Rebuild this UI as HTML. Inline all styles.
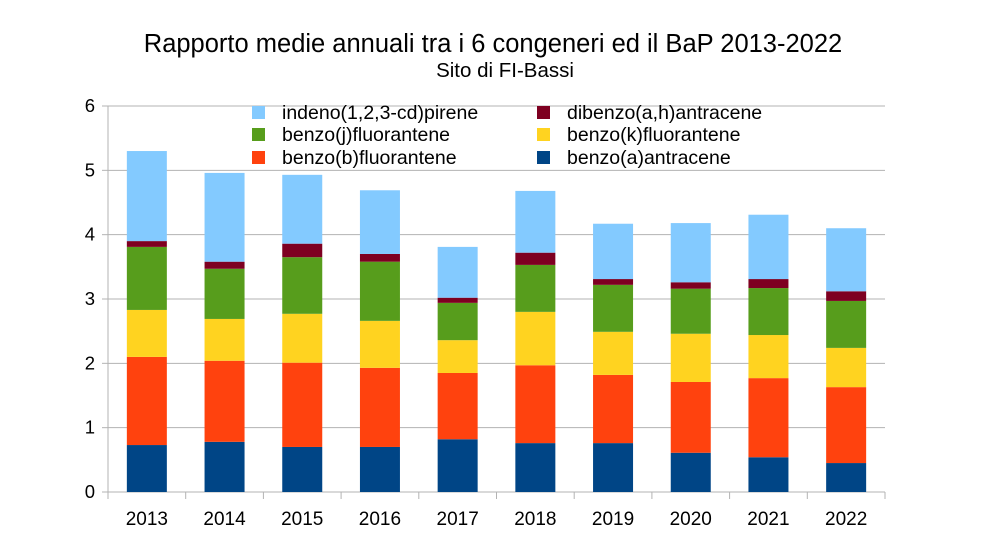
<!DOCTYPE html>
<html><head><meta charset="utf-8"><style>
body{margin:0;background:#fff;}
svg text{font-family:"Liberation Sans",sans-serif;fill:#000;}
</style></head><body>
<svg id="chart" width="986" height="555" viewBox="0 0 986 555" xmlns="http://www.w3.org/2000/svg">
<rect width="986" height="555" fill="#fff"/>
<text x="493" y="52" font-size="25.5" text-anchor="middle">Rapporto medie annuali tra i 6 congeneri ed il BaP 2013-2022</text>
<text x="505" y="77" font-size="20.5" text-anchor="middle">Sito di FI-Bassi</text>
<g id="grid"></g><g id="bars"></g><g id="axes"></g><g id="legend"></g>
</svg>
<script>
const categories=["2013","2014","2015","2016","2017","2018","2019","2020","2021","2022"];
const seriesNames=["benzo(a)antracene","benzo(b)fluorantene","benzo(k)fluorantene","benzo(j)fluorantene","dibenzo(a,h)antracene","indeno(1,2,3-cd)pirene"];
const benzoA=[0.73,0.78,0.70,0.70,0.82,0.76,0.76,0.61,0.54,0.45];
const benzoB=[1.37,1.26,1.31,1.23,1.03,1.21,1.06,1.10,1.23,1.18];
const benzoK=[0.73,0.65,0.76,0.73,0.51,0.83,0.67,0.75,0.67,0.61];
const benzoJ=[0.98,0.78,0.88,0.92,0.58,0.73,0.73,0.70,0.73,0.73];
const dibenzo=[0.09,0.11,0.21,0.12,0.08,0.19,0.09,0.10,0.14,0.15];
const indeno=[1.40,1.38,1.07,0.99,0.79,0.96,0.86,0.92,1.00,0.98];
const yTicks=[0,1,2,3,4,5,6];
const colors=["#004586","#ff420e","#ffd320","#579d1c","#7e0021","#83caff"];
const series=[benzoA,benzoB,benzoK,benzoJ,dibenzo,indeno];
const NS="http://www.w3.org/2000/svg";
const x0=108,x1=885,y0=492,y1=106,yMax=6;
const band=(x1-x0)/categories.length;
function yScale(v){return y0-(v/yMax)*(y0-y1);}
function xCenter(i){return x0+band*(i+0.5);}
function mk(tag,attrs,parent){const e=document.createElementNS(NS,tag);for(const k in attrs)e.setAttribute(k,attrs[k]);parent.appendChild(e);return e;}
const grid=document.getElementById('grid'),bars=document.getElementById('bars'),axes=document.getElementById('axes'),legend=document.getElementById('legend');
yTicks.forEach(t=>{
  const y=yScale(t);
  const l=mk('line',{x1:x0,x2:x1,y1:y,y2:y,stroke:'#b3b3b3','stroke-width':1},grid);
  
  
  const tk=mk('line',{x1:x0-6,x2:x0,y1:y,y2:y,stroke:'#b3b3b3'},axes);
  
  
  const tx=mk('text',{x:x0-13,y:y+6,'font-size':18.5,'text-anchor':'end'},axes);
  tx.textContent=t;
  
  
});
const yl=mk('line',{x1:x0,x2:x0,y1:y1,y2:y0,stroke:'#b3b3b3'},axes);


for(let i=0;i<=categories.length;i++){
  const x=x0+band*i;
  const t=mk('line',{x1:x,x2:x,y1:y0,y2:y0+7,stroke:'#b3b3b3'},axes);
  
  
}
const bw=40;
categories.forEach((c,i)=>{
  let cum=0;
  series.forEach((s,k)=>{
    const v=s[i];
    const yt=yScale(cum+v),yb=yScale(cum);
    const r=mk('rect',{x:xCenter(i)-bw/2,y:yt,width:bw,height:yb-yt,fill:colors[k]},bars);
    
    
    cum+=v;
  });
  const tx=mk('text',{x:xCenter(i),y:525,'font-size':19,'text-anchor':'middle'},axes);
  tx.textContent=c;
  
  
});
const legendOrder=[[5,258,112],[4,543,112],[3,258,134],[2,543,134],[1,258,157],[0,543,157]];
legendOrder.forEach(([k,x,y])=>{
  const g=mk('g',{},legend);
  
  
  mk('rect',{x:x-6,y:y-6,width:13,height:13,fill:colors[k]},g);
  const t=mk('text',{x:x+24,y:y+7,'font-size':19.5},g);
  t.textContent=seriesNames[k];
});
</script>
</body></html>
